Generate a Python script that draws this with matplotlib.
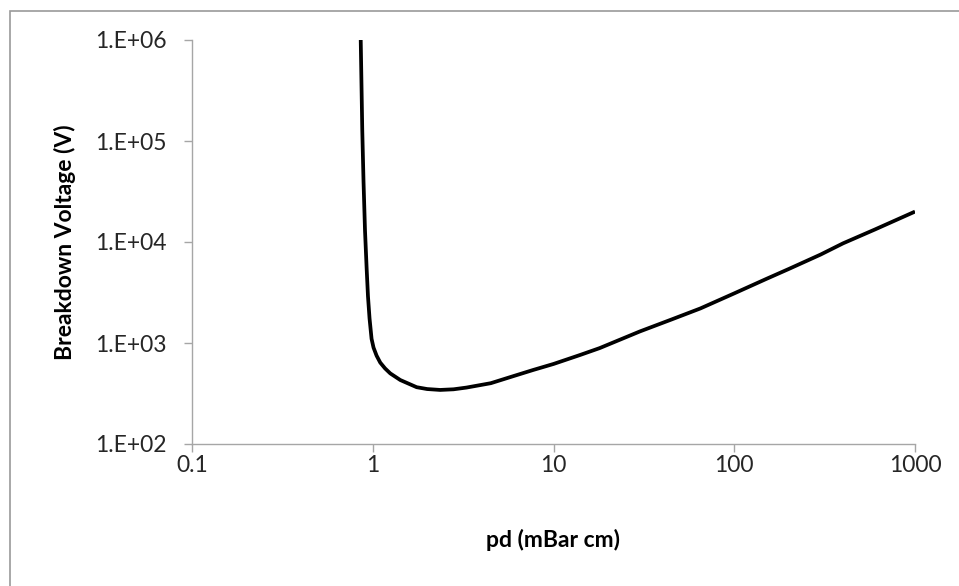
import matplotlib
matplotlib.use("Agg")
import matplotlib.pyplot as plt
from matplotlib.patches import Rectangle

plt.rcParams['font.family'] = ['Lato', 'DejaVu Sans']

# Data (pd in mBar cm, breakdown voltage in V)
pd_values = [0.858, 0.875, 0.889, 0.906, 0.925, 0.941, 0.96, 0.985, 1.01, 1.05,
             1.10, 1.17, 1.25, 1.42, 1.75, 2.0, 2.36, 2.8, 3.3, 4.5, 6.0, 7.7,
             10, 14, 18, 30, 45, 65, 100, 150, 200, 300, 400, 600, 1000]
voltage = [1.0e6, 1.28e5, 4.0e4, 1.3e4, 5.5e3, 2.9e3, 1.75e3, 1.1e3, 900, 750,
           640, 560, 500, 430, 365, 350, 343, 348, 362, 400, 470, 540,
           620, 760, 890, 1300, 1710, 2200, 3100, 4300, 5400, 7500, 9700, 13300, 2.0e4]

x_ticks = [0.1, 1, 10, 100, 1000]
x_tick_labels = ["0.1", "1", "10", "100", "1000"]
y_ticks = [1e2, 1e3, 1e4, 1e5, 1e6]
y_tick_labels = ["1.E+02", "1.E+03", "1.E+04", "1.E+05", "1.E+06"]

x_label = "pd (mBar cm)"
y_label = "Breakdown Voltage (V)"

W, H = 959, 586
fig = plt.figure(figsize=(W / 100, H / 100), dpi=100)
ax = fig.add_axes([192 / W, 1 - 444 / H, (915 - 192) / W, (444 - 40) / H])

ax.plot(pd_values, voltage, color='black', lw=2.7, solid_capstyle='butt',
        solid_joinstyle='round')

ax.set_xscale('log')
ax.set_yscale('log')
ax.set_xlim(0.1, 1000)
ax.set_ylim(1e2, 1e6)
ax.set_xticks(x_ticks)
ax.set_xticklabels(x_tick_labels)
ax.set_yticks(y_ticks)
ax.set_yticklabels(y_tick_labels)
ax.minorticks_off()

grey = '#a6a6a6'
for s in ['top', 'right']:
    ax.spines[s].set_visible(False)
for s in ['left', 'bottom']:
    ax.spines[s].set_color(grey)
    ax.spines[s].set_linewidth(1.0)

fs = 16.5
ax.tick_params(axis='both', colors=grey, length=6, width=1.0, direction='out',
               labelcolor='#262626', labelsize=fs)
ax.tick_params(axis='y', pad=12)
ax.tick_params(axis='x', pad=2)

ax.set_xlabel(x_label, fontsize=fs, fontweight='bold', color='black', labelpad=38)
ax.set_ylabel(y_label, fontsize=fs, fontweight='bold', color='black', labelpad=14)

# outer chart-area border (visible on top and left)
fig.patches.append(Rectangle((9.5 / W, -0.5), 1.5, 1.5 - 10.5 / H,
                             transform=fig.transFigure, fill=False,
                             edgecolor='#9a9a9a', lw=1.2))

fig.savefig("out.png", dpi=100)
